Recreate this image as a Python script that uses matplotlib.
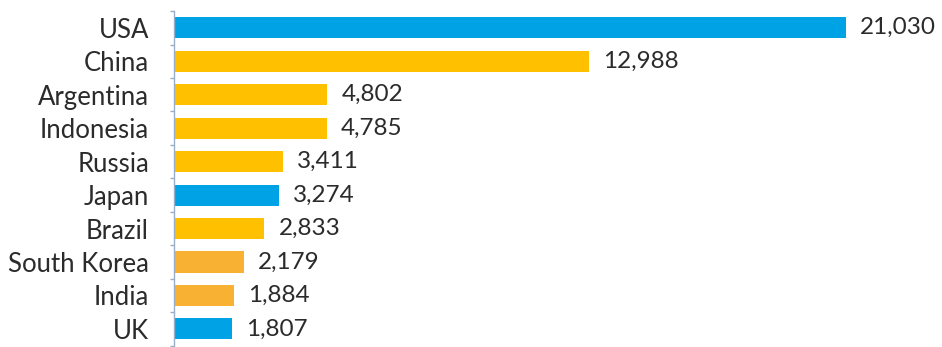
import matplotlib
matplotlib.use("Agg")
import matplotlib.pyplot as plt
import numpy as np

countries = ["USA", "China", "Argentina", "Indonesia", "Russia",
             "Japan", "Brazil", "South Korea", "India", "UK"]
values = [21030, 12988, 4802, 4785, 3411, 3274, 2833, 2179, 1884, 1807]
groups = ["blue", "yellow", "yellow", "yellow", "yellow",
          "blue", "yellow", "orange", "orange", "blue"]

palette = {"blue": "#00A2E6", "yellow": "#FFC000", "orange": "#F9B133"}

plt.rcParams["font.family"] = ["Lato", "DejaVu Sans"]

fig = plt.figure(figsize=(9.42, 3.47), dpi=100)
ax = fig.add_axes([0.1847, 0.004, 0.78, 0.964])

y = np.arange(len(countries))
ax.barh(y, values, height=0.63,
        color=[palette[g] for g in groups], edgecolor="none")

ax.set_ylim(len(countries) - 0.5, -0.5)
ax.set_xlim(0, 23000)

for yi, v in zip(y, values):
    ax.annotate(f"{v:,}", xy=(v, yi), xytext=(14, 0),
                textcoords="offset pixels", va="center", ha="left",
                fontsize=17.5, color="#2B2B2B")

ax.set_yticks(y)
ax.set_yticklabels(countries, fontsize=18.5, color="#2B2B2B")
ax.tick_params(axis="y", which="major", length=0, pad=18)
ax.set_yticks(np.arange(-0.5, len(countries)), minor=True)
ax.tick_params(axis="y", which="minor", length=3, width=1, color="#9AAFC7")

ax.set_xticks([])
for side in ("top", "right", "bottom"):
    ax.spines[side].set_visible(False)
ax.spines["left"].set_color("#9AAFC7")
ax.spines["left"].set_linewidth(1)

fig.savefig("out.png", dpi=100)
